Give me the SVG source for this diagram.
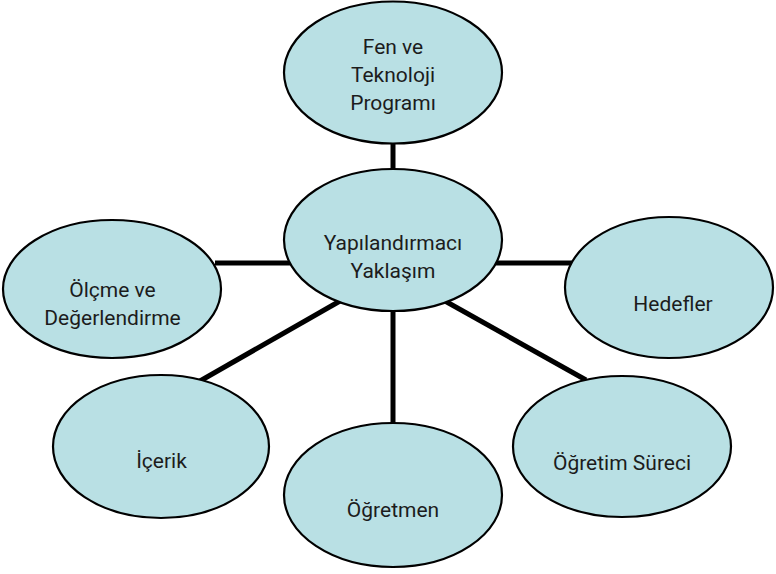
<svg xmlns="http://www.w3.org/2000/svg" width="776" height="574" viewBox="0 0 776 574">
<style>
.n{fill:#b9e0e4;stroke:#000;stroke-width:2.2}
.t{font-family:Roboto,"Liberation Sans",sans-serif;font-size:21px;fill:#1c1c1c;text-anchor:middle}
.c{stroke:#000;stroke-width:5;fill:none}
</style>
<rect width="776" height="574" fill="#fff"/>
<g id="connectors">
<line class="c" x1="393" y1="140" x2="393" y2="175"/>
<line class="c" x1="215" y1="263" x2="295" y2="263"/>
<line class="c" x1="495" y1="263" x2="575" y2="263"/>
<line class="c" x1="200" y1="381" x2="340" y2="301"/>
<line class="c" x1="393" y1="305" x2="393" y2="428"/>
<line class="c" x1="445" y1="301" x2="586" y2="380"/>
</g>
<g id="n-top"><ellipse class="n" cx="393" cy="72.5" rx="109" ry="71"/>
<text class="t" x="393" y="54">Fen ve</text><text class="t" x="393" y="82">Teknoloji</text><text class="t" x="393" y="110">Programı</text></g>
<g id="n-center"><ellipse class="n" cx="393" cy="240" rx="109" ry="71"/>
<text class="t" x="393" y="250">Yapılandırmacı</text><text class="t" x="393" y="278">Yaklaşım</text></g>
<g id="n-olcme"><ellipse class="n" cx="112" cy="289" rx="109" ry="69"/>
<text class="t" x="112.5" y="297">Ölçme ve</text><text class="t" x="112.5" y="325">Değerlendirme</text></g>
<g id="n-hedefler"><ellipse class="n" cx="669" cy="287.5" rx="104" ry="70.5"/>
<text class="t" x="673" y="311">Hedefler</text></g>
<g id="n-icerik"><ellipse class="n" cx="161" cy="446.5" rx="108" ry="71.5"/>
<text class="t" x="161.5" y="468">İçerik</text></g>
<g id="n-ogretmen"><ellipse class="n" cx="393" cy="495" rx="109" ry="72"/>
<text class="t" x="393" y="517">Öğretmen</text></g>
<g id="n-surec"><ellipse class="n" cx="622" cy="446.5" rx="109" ry="70.5"/>
<text class="t" x="622" y="470">Öğretim Süreci</text></g>
</svg>
